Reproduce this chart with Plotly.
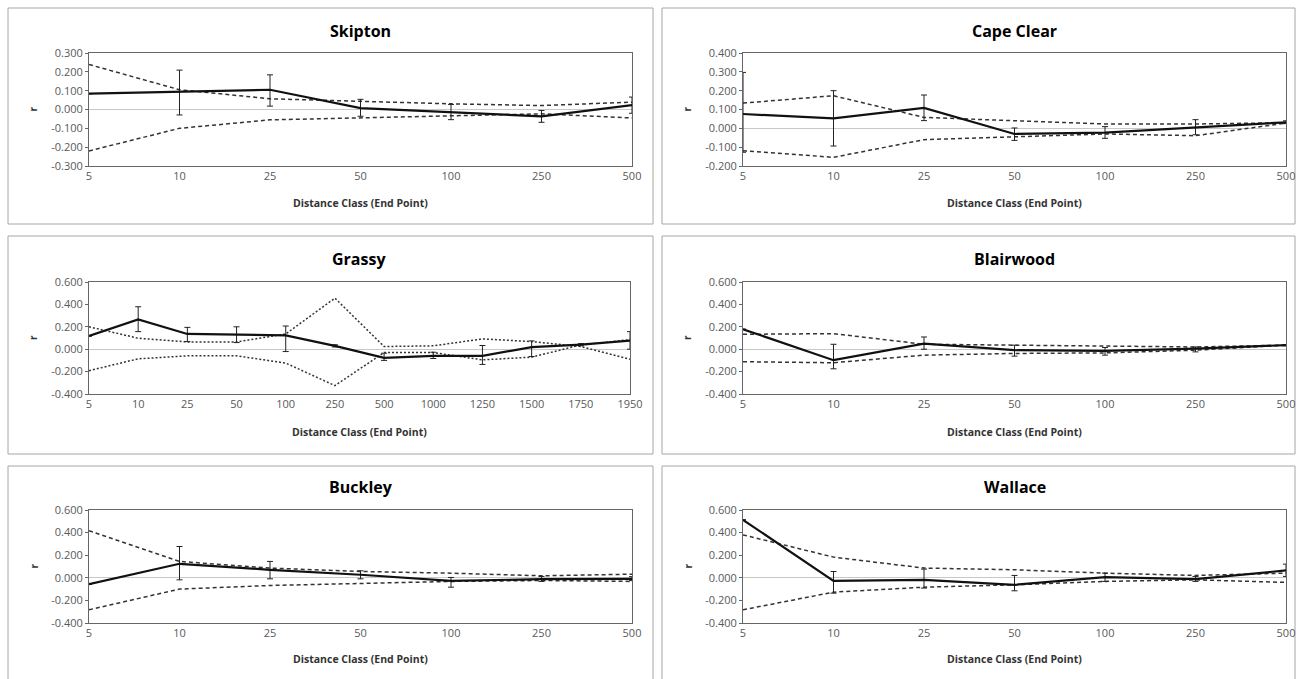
import plotly.graph_objects as go

# ---------------- data ----------------
classes_std = ["5", "10", "25", "50", "100", "250", "500"]
classes_grassy = ["5", "10", "25", "50", "100", "250", "500", "1000", "1250", "1500", "1750", "1950"]

skipton_r = [0.084, 0.093, 0.105, 0.007, -0.014, -0.036, 0.023]
skipton_hi = [None, 0.209, 0.184, 0.054, 0.027, -0.005, 0.066]
skipton_lo = [None, -0.029, 0.018, -0.036, -0.054, -0.068, -0.020]
skipton_upper = [0.239, 0.105, 0.057, 0.043, 0.030, 0.021, 0.039]
skipton_lower = [-0.220, -0.100, -0.055, -0.045, -0.032, -0.023, -0.045]

capeclear_r = [0.076, 0.053, 0.108, -0.030, -0.023, 0.005, 0.032]
capeclear_hi = [0.297, 0.200, 0.177, 0.002, 0.009, 0.046, 0.040]
capeclear_lo = [-0.127, -0.094, 0.041, -0.064, -0.053, -0.034, 0.025]
capeclear_upper = [0.134, 0.173, 0.058, 0.040, 0.023, 0.023, 0.030]
capeclear_lower = [-0.119, -0.154, -0.060, -0.043, -0.030, -0.039, 0.028]

grassy_r = [0.118, 0.266, 0.136, 0.130, 0.124, 0.030, -0.077, -0.059, -0.059, 0.018, 0.040, 0.077]
grassy_hi = [None, 0.379, 0.195, 0.200, 0.207, 0.040, -0.036, -0.027, 0.033, 0.074, 0.050, 0.157]
grassy_lo = [None, 0.157, 0.068, 0.059, -0.021, 0.020, -0.100, -0.083, -0.136, -0.065, 0.030, 0.000]
grassy_upper = [0.200, 0.098, 0.065, 0.065, 0.136, 0.456, 0.024, 0.030, 0.092, 0.068, 0.024, -0.089]
grassy_lower = [-0.192, -0.086, -0.059, -0.059, -0.124, -0.325, -0.030, -0.030, -0.095, -0.071, 0.038, 0.085]

blairwood_r = [0.178, -0.098, 0.050, -0.009, -0.015, 0.006, 0.036]
blairwood_hi = [None, 0.044, 0.109, 0.036, 0.015, 0.020, 0.040]
blairwood_lo = [None, -0.175, 0.000, -0.062, -0.053, -0.024, 0.030]
blairwood_upper = [0.133, 0.139, 0.044, 0.036, 0.030, 0.020, 0.036]
blairwood_lower = [-0.112, -0.121, -0.053, -0.038, -0.033, -0.009, 0.036]

buckley_r = [-0.056, 0.124, 0.071, 0.027, -0.027, -0.012, -0.009]
buckley_hi = [None, 0.277, 0.145, 0.062, 0.003, 0.012, 0.010]
buckley_lo = [None, -0.018, -0.009, -0.009, -0.083, -0.032, -0.025]
buckley_upper = [0.416, 0.145, 0.086, 0.056, 0.041, 0.018, 0.032]
buckley_lower = [-0.283, -0.100, -0.068, -0.047, -0.032, -0.024, -0.032]

wallace_r = [0.513, -0.027, -0.018, -0.062, 0.006, -0.012, 0.065]
wallace_hi = [None, 0.056, 0.077, 0.021, 0.041, 0.012, 0.121]
wallace_lo = [None, -0.136, -0.091, -0.115, -0.032, -0.032, 0.012]
wallace_upper = [0.380, 0.183, 0.086, 0.071, 0.041, 0.021, 0.041]
wallace_lower = [-0.283, -0.127, -0.083, -0.062, -0.032, -0.018, -0.041]

titles = ["Skipton", "Cape Clear", "Grassy", "Blairwood", "Buckley", "Wallace"]
y_ranges = [(-0.3, 0.3, 0.1), (-0.2, 0.4, 0.1), (-0.4, 0.6, 0.2),
            (-0.4, 0.6, 0.2), (-0.4, 0.6, 0.2), (-0.4, 0.6, 0.2)]

panels = [
    (classes_std, skipton_r, skipton_hi, skipton_lo, skipton_upper, skipton_lower),
    (classes_std, capeclear_r, capeclear_hi, capeclear_lo, capeclear_upper, capeclear_lower),
    (classes_grassy, grassy_r, grassy_hi, grassy_lo, grassy_upper, grassy_lower),
    (classes_std, blairwood_r, blairwood_hi, blairwood_lo, blairwood_upper, blairwood_lower),
    (classes_std, buckley_r, buckley_hi, buckley_lo, buckley_upper, buckley_lower),
    (classes_std, wallace_r, wallace_hi, wallace_lo, wallace_upper, wallace_lower),
]

# ---------------- layout geometry (page pixels) ----------------
W, H = 1300, 679
col_plot = [(89, 632), (743, 1286)]
row_plot = [(53, 166), (282, 394), (510, 623)]
row_title = [31, 259, 487]
row_axtitle = [203, 432, 659]
col_box = [(8, 653), (662, 1295)]
row_box = [(8, 224), (236, 454), (466, 700)]

FONT = "Open Sans, Liberation Sans, sans-serif"
TICKCOL = "#595959"

fig = go.Figure()
shapes = []
annotations = []
layout_axes = {}

def fx(px):
    return px / W

def fy(py):
    return 1 - py / H

for i, (cats, r, hi, lo, up, low) in enumerate(panels):
    row, col = divmod(i, 2)
    n = i + 1
    xa = "x" if n == 1 else f"x{n}"
    ya = "y" if n == 1 else f"y{n}"
    x0p, x1p = col_plot[col]
    if cats is classes_grassy:
        x1p = 630
    y0p, y1p = row_plot[row]
    xs = list(range(len(cats)))

    dash_style = "2px,2px" if cats is classes_grassy else "4px,3px"
    for band in (up, low):
        fig.add_trace(go.Scatter(x=xs, y=band, xaxis=xa, yaxis=ya, mode="lines",
                                 line=dict(color="#333333", width=1.5, dash=dash_style),
                                 showlegend=False, hoverinfo="skip"))

    plus = [(h - v) if h is not None else float("nan") for h, v in zip(hi, r)]
    minus = [(v - l) if l is not None else float("nan") for l, v in zip(lo, r)]
    fig.add_trace(go.Scatter(x=xs, y=r, xaxis=xa, yaxis=ya, mode="lines",
                             line=dict(color="#111111", width=2.2),
                             error_y=dict(type="data", symmetric=False, array=plus,
                                          arrayminus=minus, color="#222222",
                                          thickness=1, width=3),
                             showlegend=False))

    lo_r, hi_r, step = y_ranges[i]
    nt = int(round((hi_r - lo_r) / step)) + 1
    tv = [round(lo_r + k * step, 3) for k in range(nt)]
    tt = [f"{v:.3f}".replace("-0.000", "0.000") for v in tv]

    key_x = "xaxis" if n == 1 else f"xaxis{n}"
    key_y = "yaxis" if n == 1 else f"yaxis{n}"
    layout_axes[key_x] = dict(domain=[fx(x0p), fx(x1p)], anchor=ya, range=[0, len(cats) - 1],
                              tickvals=xs, ticktext=cats, showgrid=False, zeroline=False,
                              showline=True, mirror=True, linecolor="#666666", linewidth=1,
                              ticks="", tickfont=dict(family=FONT, size=11, color=TICKCOL),
                              automargin=False, fixedrange=True)
    layout_axes[key_y] = dict(domain=[fy(y1p), fy(y0p)], anchor=xa, range=[lo_r, hi_r],
                              tickvals=tv, ticktext=tt, showgrid=False, zeroline=True,
                              zerolinecolor="#c8c8c8", zerolinewidth=1,
                              showline=True, mirror=True, linecolor="#666666", linewidth=1,
                              ticks="outside", ticklen=3, tickcolor="#666666",
                              tickfont=dict(family=FONT, size=11, color=TICKCOL),
                              automargin=False, fixedrange=True)

    # panel box
    bx0, bx1 = col_box[col]
    by0, by1 = row_box[row]
    shapes.append(dict(type="rect", xref="paper", yref="paper",
                       x0=fx(bx0), x1=fx(bx1), y0=fy(by1), y1=fy(by0),
                       line=dict(color="#a6a6a6", width=1), layer="below"))
    cx = (x0p + x1p) / 2
    annotations.append(dict(text=f"<b>{titles[i]}</b>", xref="paper", yref="paper",
                            x=fx(cx), y=fy(row_title[row]), xanchor="center", yanchor="middle",
                            showarrow=False, font=dict(family=FONT, size=16, color="#000000")))
    annotations.append(dict(text="<b>Distance Class (End Point)</b>", xref="paper", yref="paper",
                            x=fx(cx), y=fy(row_axtitle[row]), xanchor="center", yanchor="middle",
                            showarrow=False, font=dict(family=FONT, size=10.5, color="#333333")))
    annotations.append(dict(text="<b>r</b>", xref="paper", yref="paper",
                            x=fx(x0p - 56), y=fy((y0p + y1p) / 2), xanchor="center",
                            yanchor="middle", textangle=-90, showarrow=False,
                            font=dict(family=FONT, size=10, color="#333333")))

fig.update_layout(width=W, height=H, margin=dict(l=0, r=0, t=0, b=0, autoexpand=False),
                  paper_bgcolor="white", plot_bgcolor="white",
                  shapes=shapes, annotations=annotations, showlegend=False,
                  **layout_axes)

fig.write_html("out.html", config={"responsive": False, "displayModeBar": False},
               post_script="document.body.style.margin='0';document.body.style.overflow='hidden';")
